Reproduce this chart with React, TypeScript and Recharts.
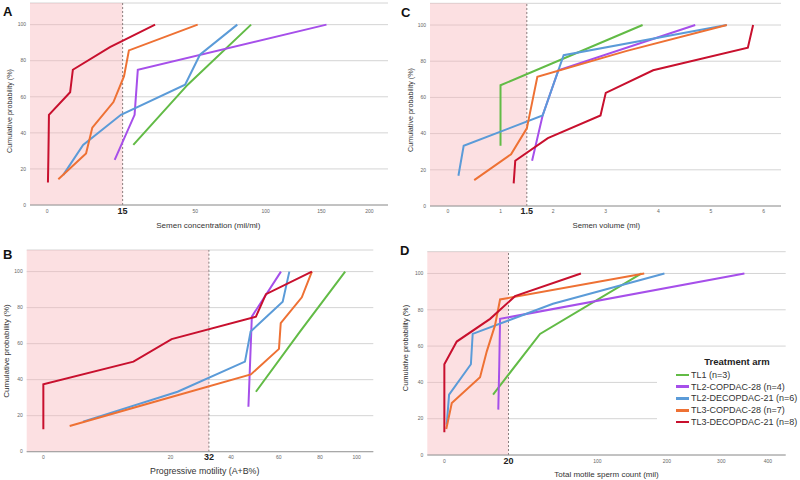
import React from 'react';
import { LineChart, Line, XAxis, YAxis, CartesianGrid, ReferenceArea, ReferenceLine, Legend } from 'recharts';

// treatment arms, in legend order
const ARMS = ['TL1 (n=3)', 'TL2-COPDAC-28 (n=4)', 'TL2-DECOPDAC-21 (n=6)', 'TL3-COPDAC-28 (n=7)', 'TL3-DECOPDAC-21 (n=8)'];
const COLORS = ['#62bb46', '#a64fea', '#5b9bd8', '#ee7134', '#c8102e'];

// cumulative probability steps (%) per arm size
const PROB_N3 = [33.3, 66.7, 100];
const PROB_N4 = [25, 50, 75, 100];
const PROB_N6 = [16.7, 33.3, 50, 66.7, 83.3, 100];
const PROB_N7 = [14.3, 28.6, 42.9, 57.1, 71.4, 85.7, 100];
const PROB_N8 = [12.5, 25, 37.5, 50, 62.5, 75, 87.5, 100];
const PROBS = [PROB_N3, PROB_N4, PROB_N6, PROB_N7, PROB_N8];

// A: semen concentration (mil/ml)
const CONC_TL1 = [19, 45.5, 88.4];
const CONC_TL2_CO = [12.3, 19.5, 20.8, 155];
const CONC_TL2_DECO = [0.96, 4.0, 14.4, 44, 52.8, 78];
const CONC_TL3_CO = [0.5, 4.6, 6.0, 11.9, 15.5, 17.3, 51.4];
const CONC_TL3_DECO = [0.005, 0.01, 0.015, 0.02, 1.8, 2.2, 10.8, 28.4];

// B: progressive motility (A+B%)
const MOT_TL1 = [50, 70, 93.5];
const MOT_TL2_CO = [46.9, 47.6, 48.3, 61];
const MOT_TL2_DECO = [2.5, 22, 45.5, 47.8, 61.8, 64.9];
const MOT_TL3_CO = [1.2, 17.1, 47.9, 60.1, 60.9, 70.9, 75.9];
const MOT_TL3_DECO = [0, 0, 0, 10.8, 20.3, 50, 54.3, 75.9];

// C: semen volume (ml)
const VOL_TL1 = [1.0, 1.0, 3.7];
const VOL_TL2_CO = [1.6, 1.8, 2.1, 4.7];
const VOL_TL2_DECO = [0.2, 0.3, 1.8, 2.0, 2.2, 5.3];
const VOL_TL3_CO = [0.5, 1.2, 1.5, 1.6, 1.7, 3.4, 5.3];
const VOL_TL3_DECO = [1.25, 1.28, 1.9, 2.9, 3.0, 3.9, 5.7, 5.8];

// D: total motile sperm count (mil)
const TMSC_TL1 = [12, 41.9, 160];
const TMSC_TL2_CO = [14.5, 15, 15.4, 348];
const TMSC_TL2_DECO = [0.045, 0.16, 3.9, 4.4, 53, 196];
const TMSC_TL3_CO = [0.03, 0.37, 6.75, 9.3, 12.9, 15.4, 164];
const TMSC_TL3_DECO = [0, 0, 0, 0, 0.95, 10.7, 23.9, 81];

const Y_TICKS = [0, 20, 40, 60, 80, 100];
const CONC_TICKS = [0, 15, 50, 100, 150, 200];
const MOT_TICKS = [0, 20, 32, 40, 60, 80, 100];
const VOL_TICKS = [0, 1, 1.5, 2, 3, 4, 5, 6];
const TMSC_TICKS = [0, 20, 100, 200, 300, 400];

const FONT = '"Liberation Sans", Arial, sans-serif';

const XTick = ({ x, y, payload, exp, cut, dy }: any) => {
  const v = Math.round(Math.pow(payload.value, 1 / exp) * 100) / 100;
  const hi = Math.abs(v - cut) < 1e-6;
  return (
    <text
      x={x}
      y={y + dy}
      textAnchor="middle"
      dominantBaseline="central"
      fontSize={hi ? 9 : 5}
      fontWeight={hi ? 700 : 400}
      fill={hi ? '#222' : '#666'}
    >
      {v}
    </text>
  );
};

const LegendBox = ({ payload }: any) => (
  <div style={{ background: '#fff', padding: '8px 0 10px 19px', fontFamily: FONT }}>
    <div style={{ width: 122, textAlign: 'center', fontSize: 9.5, fontWeight: 700, lineHeight: '12px', color: '#222' }}>
      Treatment arm
    </div>
    <div style={{ marginTop: 1 }}>
      {/* eslint-disable-next-line @typescript-eslint/no-explicit-any */}
      {(payload || []).map((e: any) => (
        <div key={e.value} style={{ display: 'flex', alignItems: 'center', height: 11.8, fontSize: 9, color: '#333', whiteSpace: 'nowrap' }}>
          <span style={{ display: 'inline-block', width: 13, height: 2.5, background: e.color, marginRight: 2 }} />
          {e.value}
        </div>
      ))}
    </div>
  </div>
);

function Panel({ left, top, margin, yWidth, xHeight, exp, xMin, xMax, ticks, cut, vals, tickDy, legend }: any) {
  const tf = (v: number) => (exp === 1 ? v : Math.pow(v, exp));
  return (
    <div style={{ position: 'absolute', left, top }}>
      <LineChart width={400} height={240} margin={margin}>
        <ReferenceArea x1={xMin} x2={tf(cut)} y1={0} y2={112} fill="#f9b6bb" fillOpacity={0.42} stroke="none" />
        <CartesianGrid vertical={false} stroke="#d4d4d4" />
        <XAxis
          type="number"
          dataKey="x"
          domain={[xMin, xMax]}
          ticks={ticks.map(tf)}
          interval={0}
          allowDataOverflow
          height={xHeight}
          tickSize={0}
          tickMargin={0}
          tickLine={false}
          axisLine={{ stroke: '#9c9c9c' }}
          tick={(p: any) => <XTick {...p} exp={exp} cut={cut} dy={tickDy} />}
        />
        <YAxis
          type="number"
          domain={[0, 112]}
          ticks={Y_TICKS}
          width={yWidth}
          allowDataOverflow
          axisLine={false}
          tickLine={false}
          tickSize={2}
          tickMargin={2}
          tick={{ fontSize: 5, fill: '#666' }}
        />
        <ReferenceLine x={tf(cut)} stroke="#8b7d7d" strokeDasharray="2 2" />
        {vals.map((arr: number[], i: number) => (
          <Line
            key={ARMS[i]}
            data={arr.map((v, j) => ({ x: tf(v), y: PROBS[i][j] }))}
            dataKey="y"
            name={ARMS[i]}
            type="linear"
            stroke={COLORS[i]}
            strokeWidth={2}
            dot={false}
            isAnimationActive={false}
          />
        ))}
        {legend && (
          <Legend
            layout="vertical"
            align="center"
            verticalAlign="middle"
            wrapperStyle={{ left: 257, top: 108, width: 143 }}
            content={(p: any) => <LegendBox payload={p.payload} />}
          />
        )}
      </LineChart>
    </div>
  );
}

const yTitle = (x: number, y: number, size: number) => ({
  position: 'absolute' as const,
  left: x,
  top: y,
  transform: 'translate(-50%, -50%) rotate(-90deg)',
  whiteSpace: 'nowrap' as const,
  fontSize: size,
  color: '#333',
});
const xTitle = (x: number, y: number, size: number) => ({
  position: 'absolute' as const,
  left: x,
  top: y,
  transform: 'translate(-50%, -50%)',
  whiteSpace: 'nowrap' as const,
  fontSize: size,
  color: '#333',
});
const letter = (x: number, y: number) => ({
  position: 'absolute' as const,
  left: x,
  top: y,
  fontSize: 13,
  fontWeight: 700,
  lineHeight: '13px',
  color: '#111',
});

export default function App() {
  return (
    <div style={{ position: 'absolute', left: 0, top: 0, width: 800, height: 480, background: '#fff', fontFamily: FONT, overflow: 'hidden' }}>
      <Panel
        left={0}
        top={0}
        margin={{ top: 3, right: 12, bottom: 0, left: 0 }}
        yWidth={30}
        xHeight={35}
        exp={0.56}
        xMin={-1.03}
        xMax={20.56}
        ticks={CONC_TICKS}
        cut={15}
        tickDy={6}
        vals={[CONC_TL1, CONC_TL2_CO, CONC_TL2_DECO, CONC_TL3_CO, CONC_TL3_DECO]}
      />
      <Panel
        left={400}
        top={0}
        margin={{ top: 3.3, right: 19, bottom: 0, left: 0 }}
        yWidth={30}
        xHeight={34}
        exp={1}
        xMin={-0.34}
        xMax={6.33}
        ticks={VOL_TICKS}
        cut={1.5}
        tickDy={4.7}
        vals={[VOL_TL1, VOL_TL2_CO, VOL_TL2_DECO, VOL_TL3_CO, VOL_TL3_DECO]}
      />
      <Panel
        left={0}
        top={240}
        margin={{ top: 10, right: 26.7, bottom: 0, left: 0 }}
        yWidth={26.7}
        xHeight={28.3}
        exp={0.56}
        xMin={-0.7}
        xMax={13.88}
        ticks={MOT_TICKS}
        cut={32}
        tickDy={5.6}
        vals={[MOT_TL1, MOT_TL2_CO, MOT_TL2_DECO, MOT_TL3_CO, MOT_TL3_DECO]}
      />
      <Panel
        left={400}
        top={240}
        margin={{ top: 11.7, right: 14.3, bottom: 0, left: 0 }}
        yWidth={27.3}
        xHeight={25}
        exp={0.54}
        xMin={-1.34}
        xMax={26.82}
        ticks={TMSC_TICKS}
        cut={20}
        tickDy={5.7}
        legend
        vals={[TMSC_TL1, TMSC_TL2_CO, TMSC_TL2_DECO, TMSC_TL3_CO, TMSC_TL3_DECO]}
      />

      <div style={letter(3, 5)}>A</div>
      <div style={letter(401, 6)}>C</div>
      <div style={letter(3, 248)}>B</div>
      <div style={letter(400, 244)}>D</div>

      <div style={yTitle(9, 110.5, 7.2)}>Cumulative probability (%)</div>
      <div style={yTitle(409.5, 110, 7.2)}>Cumulative probability (%)</div>
      <div style={yTitle(5.5, 351, 8)}>Cumulative probability (%)</div>
      <div style={yTitle(405, 348, 7.4)}>Cumulative probability (%)</div>

      <div style={xTitle(208.3, 224.5, 8)}>Semen concentration (mil/ml)</div>
      <div style={xTitle(606.3, 225, 7.8)}>Semen volume (ml)</div>
      <div style={xTitle(204.7, 470.7, 8.8)}>Progressive motility (A+B%)</div>
      <div style={xTitle(606.5, 474.3, 8)}>Total motile sperm count (mil)</div>
    </div>
  );
}
